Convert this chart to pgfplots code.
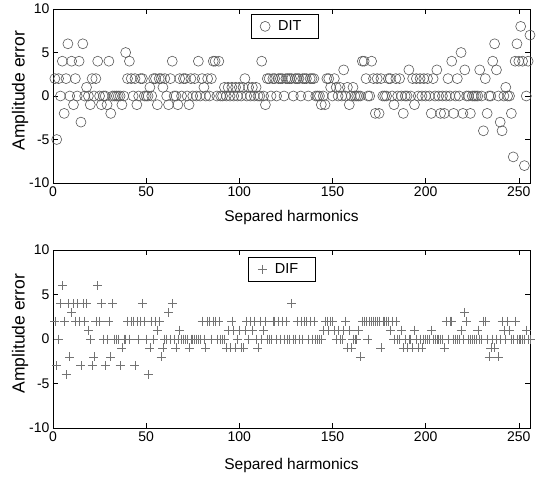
\documentclass[border=0pt]{standalone}
\usepackage{pgfplots}
\pgfplotsset{compat=1.18}
\usepackage{fontspec}
\setmainfont{Liberation Sans}
\begin{document}
\begin{tikzpicture}
\useasboundingbox (-53pt,9pt) rectangle (487pt,-467pt);
\pgfplotsset{
  harm/.style={
    scale only axis, width=477pt,
    xmin=0, xmax=256, ymin=-10, ymax=10,
    xtick={0,50,...,250}, ytick={-10,-5,0,5,10},
    tick align=inside, major tick length=5pt,
    tick style={black, line width=0.6pt},
    axis line style={black, line width=0.9pt},
    ticklabel style={font=\fontsize{14}{16}\selectfont},
    /pgf/number format/assume math mode=true,
    xlabel={Separed harmonics}, ylabel={Amplitude error},
    xlabel style={font=\fontsize{15.5}{18}\selectfont, anchor=center},
    ylabel style={font=\fontsize{17.5}{20}\selectfont, anchor=center,
      at={(axis description cs:-0.069,0.53)}},
    legend style={draw=black, line width=0.8pt, anchor=north,
      font=\fontsize{14.5}{17}\selectfont, inner xsep=9pt, inner ysep=4pt,
      nodes={inner xsep=8pt}},
    clip=false,
  },
}
\begin{axis}[harm, height=174pt, anchor=north west, at={(0,0)},
    xlabel style={at={(axis description cs:0.5,-0.201)}},
    legend style={at={(0.486,0.97)}}]
\addplot[only marks, mark=o, mark size=5pt, black!65, line width=0.6pt] coordinates {
(1,2)(2,-5)(3,2)(4,0)(5,4)(6,-2)(7,2)(8,6)(9,0)(10,4)(11,-1)(12,2)(13,0)(14,4)(15,-3)(16,6)
(17,0)(18,1)(19,0)(20,-1)(21,2)(22,0)(23,2)(24,4)(25,0)(26,-1)(27,0)(28,0)(29,-1)(30,4)(31,-2)(32,0)
(33,0)(34,0)(35,0)(36,0)(37,-1)(38,0)(39,5)(40,2)(41,4)(42,2)(43,0)(44,2)(45,-1)(46,0)(47,2)(48,2)
(49,0)(50,0)(51,0)(52,1)(53,0)(54,2)(55,2)(56,-1)(57,2)(58,2)(59,1)(60,2)(61,0)(62,-1)(63,2)(64,4)
(65,0)(66,0)(67,-1)(68,2)(69,0)(70,2)(71,2)(72,0)(73,-1)(74,2)(75,0)(76,2)(77,0)(78,4)(79,0)(80,2)
(81,1)(82,0)(83,2)(84,0)(85,2)(86,4)(87,4)(88,0)(89,4)(90,0)(91,0)(92,1)(93,0)(94,1)(95,0)(96,1)
(97,0)(98,1)(99,0)(100,1)(101,0)(102,1)(103,2)(104,0)(105,1)(106,0)(107,1)(108,0)(109,1)(110,0)(111,0)(112,4)
(113,0)(114,-1)(115,2)(116,2)(117,0)(118,2)(119,2)(120,0)(121,2)(122,2)(123,2)(124,0)(125,2)(126,2)(127,2)(128,2)
(129,0)(130,2)(131,2)(132,2)(133,0)(134,2)(135,2)(136,2)(137,0)(138,2)(139,2)(140,2)(141,0)(142,0)(143,0)(144,-1)
(145,0)(146,-1)(147,2)(148,2)(149,1)(150,0)(151,2)(152,1)(153,0)(154,1)(155,0)(156,3)(157,0)(158,1)(159,-1)(160,0)
(161,1)(162,0)(163,0)(164,0)(165,0)(166,4)(167,4)(168,2)(169,0)(170,0)(171,4)(172,2)(173,-2)(174,2)(175,-2)(176,2)
(177,0)(178,0)(179,0)(180,2)(181,2)(182,0)(183,-1)(184,2)(185,0)(186,2)(187,0)(188,-2)(189,0)(190,0)(191,3)(192,0)
(193,2)(194,-1)(195,2)(196,0)(197,2)(198,0)(199,2)(200,0)(201,2)(202,0)(203,-2)(204,2)(205,0)(206,3)(207,0)(208,-2)
(209,0)(210,-2)(211,0)(212,2)(213,0)(214,4)(215,-2)(216,0)(217,2)(218,0)(219,5)(220,-2)(221,3)(222,0)(223,0)(224,-2)
(225,0)(226,0)(227,0)(228,0)(229,3)(230,0)(231,-4)(232,2)(233,-2)(234,0)(235,0)(236,4)(237,6)(238,3)(239,0)(240,-3)
(241,-4)(242,0)(243,1)(244,0)(245,0)(246,-2)(247,-7)(248,4)(249,6)(250,4)(251,8)(252,4)(253,-8)(254,0)(255,4)(256,7)
};
\legend{DIT}
\end{axis}
\begin{axis}[harm, height=178pt, anchor=north west, at={(0,-241pt)},
    xlabel style={at={(axis description cs:0.5,-0.213)}},
    legend style={at={(0.48,0.96)}}]
\addplot[only marks, mark=+, mark size=4.5pt, black!55, line width=0.6pt] coordinates {
(1,2)(2,-3)(3,0)(4,4)(5,6)(6,2)(7,-4)(8,4)(9,-2)(10,3)(11,4)(12,2)(13,4)(14,2)(15,-3)(16,4)
(17,2)(18,4)(19,1)(20,0)(21,-3)(22,-2)(23,2)(24,6)(25,2)(26,4)(27,0)(28,-3)(29,0)(30,2)(31,-2)(32,4)
(33,0)(34,0)(35,0)(36,-3)(37,-1)(38,0)(39,0)(40,2)(41,0)(42,2)(43,2)(44,-3)(45,2)(46,0)(47,2)(48,4)
(49,2)(50,0)(51,-4)(52,-1)(53,2)(54,0)(55,2)(56,1)(57,2)(58,-2)(59,-1)(60,0)(61,0)(62,3)(63,0)(64,4)
(65,0)(66,-1)(67,0)(68,1)(69,0)(70,0)(71,0)(72,0)(73,-1)(74,0)(75,0)(76,0)(77,0)(78,0)(79,0)(80,2)
(81,0)(82,-1)(83,2)(84,2)(85,0)(86,2)(87,2)(88,0)(89,2)(90,0)(91,0)(92,0)(93,-1)(94,1)(95,-1)(96,2)
(97,1)(98,-1)(99,0)(100,1)(101,-1)(102,-1)(103,1)(104,2)(105,0)(106,2)(107,1)(108,2)(109,0)(110,-1)(111,2)(112,0)
(113,1)(114,2)(115,0)(116,0)(117,0)(118,2)(119,2)(120,0)(121,2)(122,0)(123,2)(124,0)(125,2)(126,0)(127,0)(128,4)
(129,0)(130,0)(131,2)(132,0)(133,2)(134,0)(135,2)(136,2)(137,0)(138,2)(139,0)(140,2)(141,0)(142,0)(143,0)(144,0)
(145,1)(146,2)(147,2)(148,1)(149,2)(150,2)(151,1)(152,0)(153,1)(154,0)(155,0)(156,1)(157,2)(158,-1)(159,1)(160,-1)
(161,0)(162,0)(163,0)(164,1)(165,-2)(166,2)(167,2)(168,2)(169,0)(170,2)(171,2)(172,2)(173,2)(174,2)(175,2)(176,-1)
(177,2)(178,2)(179,2)(180,2)(181,1)(182,2)(183,0)(184,2)(185,0)(186,0)(187,1)(188,-1)(189,0)(190,-1)(191,0)(192,0)
(193,-1)(194,1)(195,0)(196,-1)(197,0)(198,-1)(199,0)(200,0)(201,0)(202,0)(203,1)(204,0)(205,0)(206,0)(207,0)(208,0)
(209,0)(210,-1)(211,2)(212,0)(213,2)(214,2)(215,0)(216,0)(217,0)(218,0)(219,1)(220,0)(221,3)(222,2)(223,0)(224,0)
(225,0)(226,0)(227,0)(228,1)(229,0)(230,0)(231,2)(232,2)(233,0)(234,-2)(235,-1)(236,0)(237,-1)(238,0)(239,-2)(240,0)
(241,2)(242,1)(243,0)(244,2)(245,1)(246,0)(247,0)(248,2)(249,0)(250,0)(251,0)(252,0)(253,0)(254,1)(255,0)(256,0)
};
\legend{DIF}
\end{axis}
\end{tikzpicture}
\end{document}
